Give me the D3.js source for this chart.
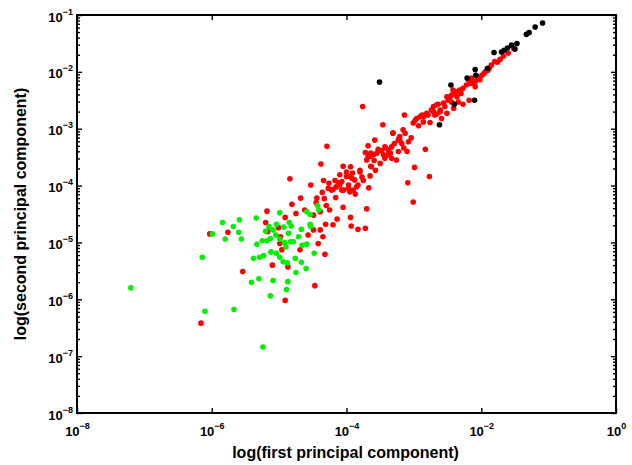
<!DOCTYPE html>
<html>
<head>
<meta charset="utf-8">
<script src="https://cdn.jsdelivr.net/npm/d3@7"></script>
<style>
  body { margin: 0; background: #fff; }
  svg { display: block; font-family: "Liberation Sans", Arial, sans-serif; }
</style>
</head>
<body>
<svg id="chart" width="632" height="465"></svg>
<script>
// values, as log10 of each component
const redLogX = [-6.03,-5.76,-5.54,-6.16,-5.18,-5.20,-5.17,-5.10,-4.87,-4.47,-4.91,-4.32,-4.69,-4.42,-4.35,-4.57,-4.49,-4.39,-4.20,-4.31,
  -4.14,-3.94,-3.93,-3.83,-3.72,-3.70,-4.05,-4.16,-4.33,-4.30,-4.25,-4.39,-4.49,-4.62,-4.75,-4.98,-4.99,-4.96,-4.91,-5.01,
  -4.81,-4.68,-4.44,-4.53,-4.84,-4.38,-4.29,-3.76,-3.46,-3.14,-4.34,-4.26,-4.17,-4.20,-4.10,-4.05,-3.94,-4.00,-3.92,-3.88,
  -3.85,-4.04,-3.95,-3.87,-3.97,-3.80,-3.77,-3.67,-3.65,-3.64,-3.59,-3.68,-3.58,-3.72,-3.64,-3.70,-3.55,-3.48,-3.42,-3.39,
  -3.33,-3.26,-3.43,-3.50,-3.57,-3.31,-3.29,-3.22,-3.18,-3.15,-3.23,-3.08,-3.04,-3.10,-2.83,-2.99,-2.77,-3.09,-3.01,-2.98,
  -2.91,-2.81,-2.71,-2.64,-2.54,-2.46,-2.39,-2.93,-2.86,-2.76,-2.66,-2.51,-2.59,-2.85,-2.79,-2.74,-2.66,-2.61,-2.49,-2.44,
  -2.36,-2.32,-2.27,-2.22,-2.19,-2.14,-2.09,-2.04,-1.99,-1.94,-1.90,-1.85,-1.80,-1.72,-1.67,-1.60,-1.52,-2.69,-2.41,-2.27,
  -2.18,-2.34,-2.09,-2.14,-2.02,-2.51,-2.42,-3.43,-3.31,-3.23,-3.16,-3.21,-3.35,-3.65,-3.63,-3.80,-3.95,-4.15,-4.07,
  -4.00,-3.91,-3.97,-3.90,-3.83,-3.75,-4.10,-4.07,-4.22,-4.15,-3.68,-3.60,-3.53,-3.45,-3.38,-3.33,-3.21,-3.13,-3.01,-2.96,
  -2.88,-2.71,-2.61,-2.56,-2.44,-2.36,-2.30,-2.16,-2.05,-1.96,-1.88,-1.76,-4.45,-4.36,-4.27,-4.12];
const redLogY = [-4.85,-4.82,-5.51,-6.42,-4.45,-4.65,-4.81,-5.40,-5.43,-5.76,-6.02,-5.21,-5.13,-5.02,-4.90,-4.87,-4.78,-4.78,-4.69,-4.68,
  -4.59,-4.56,-4.71,-4.77,-4.75,-4.41,-4.38,-4.21,-4.23,-4.35,-4.43,-4.46,-4.52,-4.43,-4.49,-4.90,-5.02,-5.13,-4.56,-4.74,
  -4.33,-4.22,-4.22,-3.99,-3.88,-3.62,-3.31,-2.61,-2.93,-2.76,-3.91,-3.96,-3.91,-4.07,-3.99,-3.66,-3.67,-3.84,-3.87,-3.90,
  -4.02,-4.08,-4.11,-4.15,-3.99,-3.73,-3.85,-4.04,-3.83,-3.66,-3.56,-3.30,-3.20,-3.42,-3.43,-3.55,-3.43,-3.39,-3.34,-3.46,
  -3.52,-3.55,-3.52,-3.61,-3.73,-3.07,-3.26,-3.17,-3.26,-3.34,-3.40,-3.23,-3.16,-3.40,-3.36,-3.68,-3.84,-3.95,-4.29,-2.85,
  -2.79,-2.73,-2.61,-2.57,-2.61,-2.44,-2.38,-2.95,-2.88,-2.89,-2.74,-2.73,-2.82,-2.78,-2.76,-2.67,-2.58,-2.70,-2.50,-2.41,
  -2.35,-2.32,-2.29,-2.23,-2.14,-2.11,-2.17,-2.09,-2.06,-2.00,-1.97,-1.88,-1.82,-1.78,-1.72,-1.67,-1.59,-2.76,-2.64,-2.57,
  -2.50,-2.53,-2.26,-2.20,-2.14,-2.44,-2.32,-3.32,-3.08,-3.20,-3.02,-3.14,-3.43,-3.49,-3.67,-3.76,-3.84,-4.02,-4.08,
  -3.76,-3.78,-4.05,-4.08,-3.99,-3.91,-3.81,-3.93,-4.08,-4.02,-3.49,-3.46,-3.36,-3.46,-3.37,-3.32,-3.20,-3.08,-2.90,-2.82,
  -2.76,-2.70,-2.67,-2.55,-2.53,-2.44,-2.38,-2.20,-2.12,-2.03,-1.93,-1.83,-4.30,-4.12,-4.05,-3.95];

const greenLogX = [-7.20,-6.14,-6.10,-5.67,-5.24,-5.84,-5.59,-5.68,-5.60,-5.80,-5.56,-5.99,-5.34,-5.25,-5.33,-5.38,-5.29,-5.23,-5.12,-5.41,
  -5.30,-5.09,-5.13,-4.99,-5.04,-4.85,-4.82,-4.93,-5.09,-5.05,-5.13,-5.18,-4.99,-4.86,-4.83,-4.71,-4.79,-4.92,-4.90,-5.04,
  -5.12,-4.99,-4.94,-4.88,-4.66,-4.59,-4.48,-4.76,-4.67,-4.60,-4.75,-4.87,-4.89,-4.59,-4.54,-4.43,-4.41,-4.53,-4.54,-4.67,
  -5.20,-5.15];
const greenLogY = [-5.80,-5.26,-6.21,-6.18,-6.84,-4.65,-4.60,-4.72,-4.82,-4.94,-4.94,-4.85,-4.57,-4.97,-5.03,-5.28,-5.26,-5.23,-5.17,-5.70,
  -5.64,-5.67,-5.94,-4.48,-4.68,-4.65,-4.71,-4.73,-4.78,-4.87,-4.93,-4.97,-4.94,-4.84,-4.99,-4.90,-4.99,-5.00,-5.08,-5.19,
  -5.17,-5.26,-5.34,-5.36,-5.05,-5.03,-5.19,-5.28,-5.35,-5.46,-5.53,-5.69,-5.83,-4.46,-4.51,-4.35,-4.43,-4.72,-4.68,-4.77,
  -4.80,-4.72];

const blackLogX = [-3.51,-2.45,-2.40,-2.10,-2.62,-2.21,-2.09,-2.08,-1.91,-1.81,-1.70,-1.66,-1.61,-1.55,-1.50,-1.47,-1.33,-1.29,-1.20,-1.09];
const blackLogY = [-2.18,-2.23,-2.57,-2.50,-2.93,-2.11,-1.96,-2.06,-1.94,-1.66,-1.65,-1.62,-1.58,-1.53,-1.60,-1.50,-1.34,-1.31,-1.21,-1.14];

const xTickExp = [-8, -6, -4, -2, 0];
const yTickExp = [-8, -7, -6, -5, -4, -3, -2, -1];

const margin = { top: 15, right: 16, bottom: 52, left: 77 };
const width = 632 - margin.left - margin.right;
const height = 465 - margin.top - margin.bottom;

const svg = d3.select("#chart");
const g = svg.append("g").attr("transform", `translate(${margin.left},${margin.top})`);

const x = d3.scaleLog().domain([1e-8, 1]).range([0, width]);
const y = d3.scaleLog().domain([1e-8, 1e-1]).range([height, 0]);

const pow = (e) => Math.pow(10, e);
const xTicks = xTickExp.map(pow);
const yTicks = yTickExp.map(pow);
// minor ticks 2..9 inside each decade of the y axis
const yMinor = [];
for (let e = -8; e < -1; e++) for (let k = 2; k <= 9; k++) yMinor.push(k * pow(e));

// points: red first, then green, then black on top
const series = [
  { xs: redLogX, ys: redLogY, color: "#ff0000" },
  { xs: greenLogX, ys: greenLogY, color: "#00f000" },
  { xs: blackLogX, ys: blackLogY, color: "#000000" },
];
series.forEach((s) => {
  g.append("g")
    .selectAll("circle")
    .data(s.xs.map((v, i) => [pow(v), pow(s.ys[i])]))
    .enter()
    .append("circle")
    .attr("cx", (d) => x(d[0]))
    .attr("cy", (d) => y(d[1]))
    .attr("r", 2.8)
    .attr("fill", s.color);
});

const tickStyle = (sel) => {
  sel.select(".domain").remove();
  sel.selectAll("line").attr("stroke", "#000").attr("stroke-width", 1.4);
};

const supLabel = (sel, exps) => {
  sel.selectAll(".tick text").each(function (d, i) {
    const t = d3.select(this).text("");
    t.append("tspan").text("10");
    t.append("tspan").attr("dy", -7).attr("font-size", 9).text(String(exps[i]).replace("-", "\u2212"));
  });
};

// bottom axis with labels
const xAxisG = g.append("g")
  .attr("transform", `translate(0,${height})`)
  .call(d3.axisBottom(x).tickValues(xTicks).tickSizeInner(-5).tickSizeOuter(0).tickFormat(() => "x"));
tickStyle(xAxisG);
xAxisG.selectAll(".tick text")
  .attr("y", 23).attr("dy", 0)
  .attr("font-size", 13).attr("font-weight", "bold").attr("fill", "#000")
  .attr("text-anchor", "middle");
supLabel(xAxisG, xTickExp);

// top axis, ticks only
const xTopG = g.append("g")
  .call(d3.axisTop(x).tickValues(xTicks).tickSizeInner(-5).tickSizeOuter(0).tickFormat(() => ""));
tickStyle(xTopG);

// left axis with labels
const yAxisG = g.append("g")
  .call(d3.axisLeft(y).tickValues(yTicks).tickSizeInner(-5).tickSizeOuter(0).tickFormat(() => "x"));
tickStyle(yAxisG);
yAxisG.selectAll(".tick text")
  .attr("x", -4).attr("dy", 0).attr("y", 6)
  .attr("font-size", 13).attr("font-weight", "bold").attr("fill", "#000")
  .attr("text-anchor", "end");
supLabel(yAxisG, yTickExp);

const yLeftMinor = g.append("g")
  .call(d3.axisLeft(y).tickValues(yMinor).tickSizeInner(-3).tickSizeOuter(0).tickFormat(() => ""));
tickStyle(yLeftMinor);

// right axis, ticks only
const yRightG = g.append("g")
  .attr("transform", `translate(${width},0)`)
  .call(d3.axisRight(y).tickValues(yTicks).tickSizeInner(-5).tickSizeOuter(0).tickFormat(() => ""));
tickStyle(yRightG);
const yRightMinor = g.append("g")
  .attr("transform", `translate(${width},0)`)
  .call(d3.axisRight(y).tickValues(yMinor).tickSizeInner(-3).tickSizeOuter(0).tickFormat(() => ""));
tickStyle(yRightMinor);

// frame
g.append("rect")
  .attr("width", width)
  .attr("height", height)
  .attr("fill", "none")
  .attr("stroke", "#000")
  .attr("stroke-width", 2);

// axis titles
svg.append("text")
  .attr("x", margin.left + width / 2 - 1)
  .attr("y", 458)
  .attr("text-anchor", "middle")
  .attr("font-size", 16)
  .attr("font-weight", "bold")
  .text("log(first principal component)");

svg.append("text")
  .attr("transform", `translate(26,${margin.top + height / 2}) rotate(-90)`)
  .attr("text-anchor", "middle")
  .attr("font-size", 16)
  .attr("font-weight", "bold")
  .text("log(second principal component)");
</script>
</body>
</html>
